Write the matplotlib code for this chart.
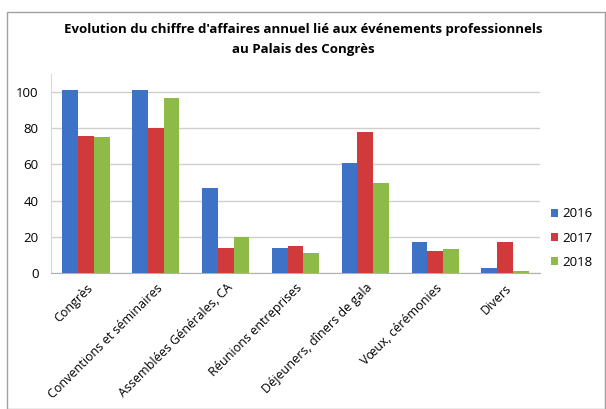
import numpy as np
import matplotlib.pyplot as plt
from matplotlib.patches import Rectangle

categories = ["Congrès", "Conventions et séminaires", "Assemblées Générales, CA",
              "Réunions entreprises", "Déjeuners, dîners de gala", "Vœux, cérémonies", "Divers"]
years = ["2016", "2017", "2018"]
v2016 = [101, 101, 47, 14, 61, 17, 3]
v2017 = [76, 80, 14, 15, 78, 12, 17]
v2018 = [75, 97, 20, 11, 50, 13, 1]
yticks = [0, 20, 40, 60, 80, 100]

colors = ["#3D72C6", "#D03A3B", "#8EBB47"]

plt.rcParams['font.family'] = ['Open Sans', 'DejaVu Sans']

fig = plt.figure(figsize=(6.06, 4.09), dpi=100)
fig.patches.append(Rectangle((7 / 606, 0.0), 598 / 606, 1 - 12 / 409, transform=fig.transFigure,
                             fill=False, edgecolor="#a0a0a0", linewidth=1.0))

ax = fig.add_axes([51 / 606, 1 - 273 / 409, 489 / 606, 199 / 409])

x = np.arange(len(categories))
w = 0.225
for i, (vals, yr) in enumerate(zip([v2016, v2017, v2018], years)):
    ax.bar(x + (i - 1) * w, vals, width=w, color=colors[i], label=yr, zorder=3)

ax.set_xlim(-0.5, len(categories) - 0.5)
ax.set_ylim(0, 110)
ax.set_yticks(yticks)
ax.set_yticklabels([str(t) for t in yticks], fontsize=9.5)
ax.yaxis.grid(True, color="#cfcfcf", linewidth=1.0, zorder=0)
ax.set_xticks(x)
ax.set_xticklabels(categories, rotation=45, ha="right", rotation_mode="anchor", fontsize=9)
ax.tick_params(axis="y", length=0, pad=9)
ax.tick_params(axis="x", length=0, pad=6)
for s in ["top", "right"]:
    ax.spines[s].set_visible(False)
ax.spines["left"].set_color("#d8d8d8")
ax.spines["bottom"].set_color("#b0b0b0")

fig.text(0.5, 1 - 30 / 409, "Evolution du chiffre d'affaires annuel lié aux événements professionnels",
         ha="center", va="center", fontsize=9.5, fontweight="bold")
fig.text(0.5, 1 - 49 / 409, "au Palais des Congrès",
         ha="center", va="center", fontsize=9.5, fontweight="bold")

ax.legend(loc="center left", bbox_to_anchor=(548 / 606, 1 - 238 / 409),
          bbox_transform=fig.transFigure, frameon=False, fontsize=9.5,
          handlelength=0.55, handleheight=0.55, handletextpad=0.35, labelspacing=0.85,
          borderaxespad=0.0, borderpad=0.2)

fig.savefig("out.png", dpi=100)
